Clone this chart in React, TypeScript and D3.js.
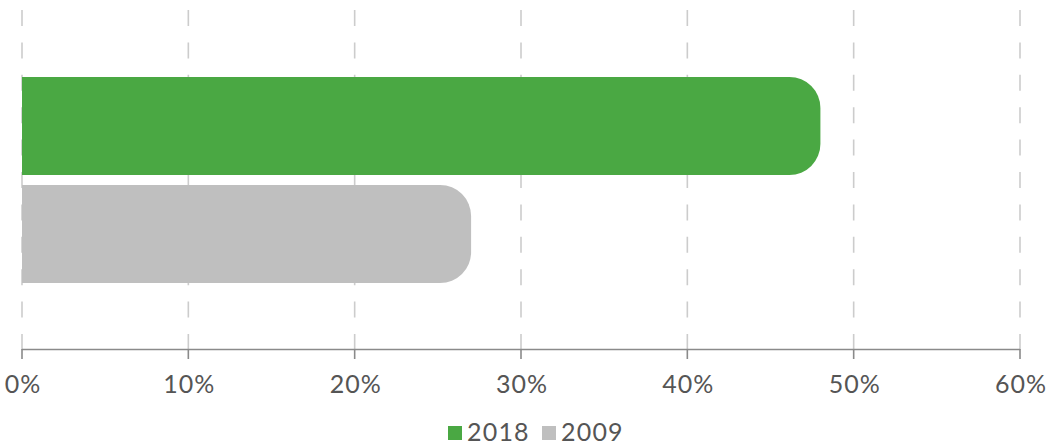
import React from "react";
import * as d3 from "d3";

const seriesNames = ["2018", "2009"];
const seriesValues = [48, 27];
const seriesColors = ["#4aa843", "#bfbfbf"];
const tickValues = [0, 10, 20, 30, 40, 50, 60];

const W = 1050;
const H = 446;
const FONT = "Lato, 'Open Sans', sans-serif";

function roundedRightBar(x0: number, x1: number, y0: number, h: number, r: number) {
  const rr = Math.min(r, (x1 - x0), h / 2);
  const p = d3.path();
  p.moveTo(x0, y0);
  p.lineTo(x1 - rr, y0);
  p.arcTo(x1, y0, x1, y0 + rr, rr);
  p.lineTo(x1, y0 + h - rr);
  p.arcTo(x1, y0 + h, x1 - rr, y0 + h, rr);
  p.lineTo(x0, y0 + h);
  p.closePath();
  return p.toString();
}

export default function App() {
  const x = d3.scaleLinear().domain([0, 60]).range([22, 1020]);
  const plotTop = 10;
  const plotBottom = 350;
  const y = d3
    .scaleBand<string>()
    .domain(seriesNames)
    .range([plotTop, plotBottom])
    .paddingInner(10 / 108)
    .paddingOuter(0.62);

  return (
    <svg
      width={W}
      height={H}
      style={{ position: "absolute", left: 0, top: 0, display: "block" }}
    >
      <rect width={W} height={H} fill="#ffffff" />
      {tickValues.map((t) => (
        <line
          key={"g" + t}
          x1={x(t)}
          x2={x(t)}
          y1={plotTop}
          y2={plotBottom}
          stroke="#cccccc"
          strokeWidth={1.6}
          strokeDasharray="16 16.4"
        />
      ))}
      {seriesNames.map((s, i) => (
        <path
          key={s}
          d={roundedRightBar(x(0), x(seriesValues[i]), y(s)!, y.bandwidth(), 31)}
          fill={seriesColors[i]}
        />
      ))}
      <line x1={x(0)} x2={x(60)} y1={349.5} y2={349.5} stroke="#8a8a8a" strokeWidth={1.6} />
      {tickValues.map((t) => (
        <g key={"t" + t}>
          <line x1={x(t)} x2={x(t)} y1={349} y2={359} stroke="#8a8a8a" strokeWidth={1.6} />
          <text
            x={x(t) + 1}
            y={393}
            textAnchor="middle"
            fontFamily={FONT}
            fontSize={25}
            letterSpacing={1}
            fill="#555555"
          >
            {t + "%"}
          </text>
        </g>
      ))}
      {seriesNames.map((s, i) => {
        const lx = [448, 542][i];
        return (
          <g key={"l" + s}>
            <rect x={lx} y={426} width={14} height={14} fill={seriesColors[i]} />
            <text
              x={lx + 19}
              y={441}
              fontFamily={FONT}
              fontSize={25}
              letterSpacing={1.2}
              fill="#555555"
            >
              {s}
            </text>
          </g>
        );
      })}
    </svg>
  );
}
